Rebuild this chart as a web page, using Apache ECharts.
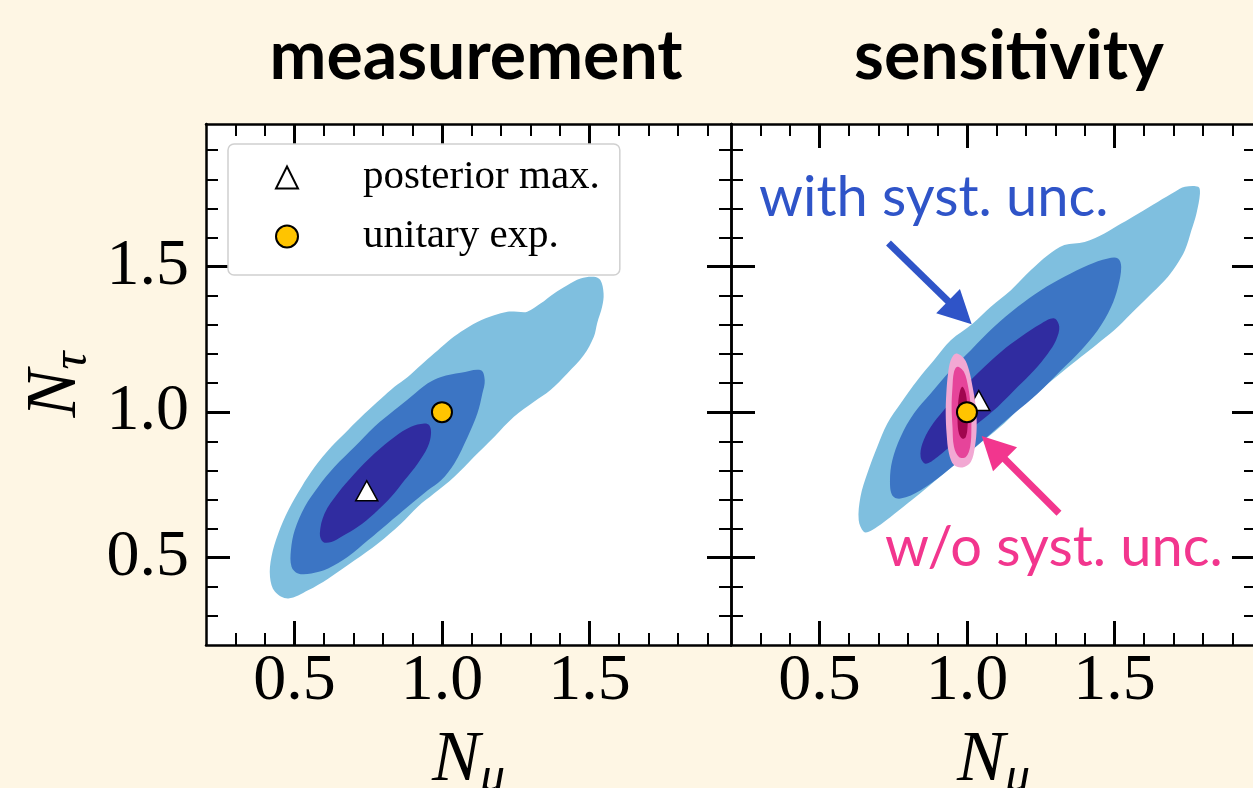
<!DOCTYPE html>
<html><head><meta charset="utf-8">
<script src="https://cdn.jsdelivr.net/npm/echarts@6/dist/echarts.min.js"></script>
<style>html,body{margin:0;padding:0;background:#fef6e4;}#c{width:1253px;height:788px;}</style>
</head><body><div id="c"></div>
<script>
// ---------- data ----------
const panelTitles = ['measurement', 'sensitivity'];
const annotationTexts = ['with syst. unc.', 'w/o syst. unc.'];
const legendNames = ['posterior max.', 'unitary exp.'];
const majorTicks = [0.5, 1.0, 1.5];
const xRange = [0.2, 1.98];
const yRange = [0.2, 1.99];

// measurement panel: credible-region contours (outer -> inner)
const measOuter = [[0.479,0.360],[0.546,0.388],[0.614,0.428],[0.704,0.491],[0.783,0.549],[0.861,0.617],[0.918,0.675],[0.974,0.721],[1.042,0.778],[1.109,0.847],[1.177,0.915],[1.244,0.984],[1.312,1.036],[1.368,1.076],[1.425,1.133],[1.481,1.196],[1.515,1.259],[1.526,1.305],[1.543,1.362],[1.548,1.408],[1.537,1.454],[1.515,1.465],[1.470,1.459],[1.425,1.436],[1.380,1.408],[1.334,1.373],[1.289,1.345],[1.256,1.345],[1.222,1.345],[1.177,1.333],[1.120,1.310],[1.064,1.276],[1.019,1.242],[0.974,1.202],[0.929,1.162],[0.884,1.121],[0.839,1.087],[0.794,1.047],[0.738,0.995],[0.681,0.938],[0.625,0.881],[0.569,0.812],[0.524,0.743],[0.479,0.663],[0.445,0.583],[0.422,0.503],[0.417,0.434],[0.434,0.383]];
const measMid = [[1.132,1.144],[1.064,1.135],[0.997,1.121],[0.952,1.099],[0.895,1.053],[0.839,1.007],[0.771,0.950],[0.704,0.881],[0.636,0.812],[0.580,0.743],[0.535,0.675],[0.501,0.595],[0.488,0.526],[0.490,0.469],[0.512,0.446],[0.557,0.446],[0.614,0.463],[0.681,0.503],[0.749,0.560],[0.816,0.617],[0.884,0.675],[0.952,0.732],[0.997,0.766],[1.042,0.824],[1.087,0.915],[1.120,0.995],[1.137,1.064],[1.145,1.110]];
const measInner = [[0.940,0.961],[0.895,0.950],[0.839,0.915],[0.771,0.858],[0.704,0.789],[0.647,0.721],[0.602,0.652],[0.586,0.583],[0.597,0.554],[0.625,0.554],[0.659,0.572],[0.715,0.606],[0.771,0.652],[0.828,0.709],[0.873,0.766],[0.918,0.824],[0.952,0.881],[0.963,0.927],[0.957,0.955]];

// sensitivity panel: with systematic uncertainties (outer -> inner)
const sensOuter = [[0.650,0.589],[0.633,0.629],[0.639,0.709],[0.662,0.789],[0.696,0.881],[0.730,0.961],[0.775,1.030],[0.832,1.110],[0.888,1.178],[0.945,1.247],[1.019,1.304],[1.081,1.362],[1.149,1.419],[1.217,1.488],[1.274,1.539],[1.330,1.574],[1.399,1.585],[1.466,1.614],[1.523,1.648],[1.580,1.682],[1.648,1.723],[1.705,1.757],[1.739,1.774],[1.784,1.774],[1.790,1.751],[1.778,1.682],[1.761,1.625],[1.739,1.556],[1.710,1.505],[1.671,1.453],[1.614,1.396],[1.557,1.339],[1.500,1.282],[1.444,1.236],[1.387,1.190],[1.330,1.144],[1.262,1.087],[1.194,1.030],[1.126,0.961],[1.058,0.904],[0.990,0.846],[0.922,0.789],[0.854,0.732],[0.798,0.686],[0.741,0.640],[0.696,0.606],[0.667,0.589]];
const sensMid = [[1.512,1.528],[1.523,1.499],[1.512,1.430],[1.489,1.362],[1.444,1.282],[1.387,1.213],[1.319,1.144],[1.240,1.064],[1.160,0.995],[1.081,0.926],[1.002,0.858],[0.922,0.789],[0.843,0.732],[0.775,0.703],[0.747,0.714],[0.739,0.766],[0.747,0.835],[0.775,0.915],[0.820,0.995],[0.877,1.064],[0.945,1.144],[1.013,1.213],[1.092,1.293],[1.172,1.362],[1.251,1.419],[1.330,1.465],[1.410,1.505],[1.478,1.528]];
const sensInner = [[1.296,1.322],[1.313,1.293],[1.302,1.247],[1.274,1.201],[1.228,1.144],[1.172,1.087],[1.104,1.018],[1.036,0.961],[0.968,0.904],[0.900,0.846],[0.860,0.823],[0.843,0.846],[0.849,0.892],[0.877,0.949],[0.922,1.007],[0.979,1.075],[1.047,1.144],[1.115,1.207],[1.183,1.259],[1.251,1.304]];

// sensitivity panel: without systematic uncertainties (outer -> inner)
const statOuter = [[0.962,1.201],[0.990,1.184],[1.007,1.144],[1.019,1.087],[1.030,1.018],[1.033,0.949],[1.027,0.881],[1.013,0.829],[0.985,0.810],[0.956,0.818],[0.939,0.858],[0.931,0.926],[0.928,0.995],[0.930,1.064],[0.936,1.133],[0.945,1.178]];
const statMid = [[0.968,1.156],[0.990,1.138],[1.004,1.087],[1.013,1.018],[1.015,0.949],[1.011,0.881],[0.996,0.846],[0.973,0.846],[0.956,0.881],[0.951,0.949],[0.948,1.018],[0.951,1.087],[0.956,1.138]];
const statInner = [[0.985,1.087],[0.996,1.064],[1.002,1.007],[1.002,0.949],[0.996,0.915],[0.985,0.909],[0.973,0.926],[0.968,0.972],[0.970,1.030],[0.977,1.075]];

// markers
const posteriorMaxMeas = [[0.745, 0.73]];
const posteriorMaxSens = [[1.04, 1.04]];
const unitaryExp = [[1.0, 1.0]];

// annotation arrows: [tail, tip] in data coordinates
const blueArrow = [[0.734, 1.581], [1.016, 1.302]];
const pinkArrow = [[1.312, 0.653], [1.050, 0.918]];

// ---------- styling ----------
const blues = ['#7fbfdf', '#3c75c4', '#302ca0'];
const pinks = ['#f2a8d3', '#e6449a', '#a1064f'];
const blueText = '#2f54c8';
const pinkText = '#f2368e';
const minorTicks = [];
for (let k = 3; k <= 19; k++) minorTicks.push(k / 10);

const grids = [
  { left: 206, top: 124, width: 525, height: 521 },
  { left: 731, top: 124, width: 525, height: 521 }
].map(g => Object.assign(g, { show: true, backgroundColor: '#ffffff', borderWidth: 0, containLabel: false, outerBoundsMode: 'none' }));

const fmt = v => v.toFixed(1);

function makeAxis(kind, g, pos, major, labels, name) {
  const ax = {
    type: 'value', gridIndex: g, position: pos,
    min: kind === 'x' ? xRange[0] : yRange[0],
    max: kind === 'x' ? xRange[1] : yRange[1],
    axisLine: { show: major, onZero: false, lineStyle: { color: '#000', width: 2.5 } },
    axisTick: { show: true, inside: true, length: major ? 24 : 12, customValues: major ? majorTicks : minorTicks,
                lineStyle: { color: '#000', width: major ? 3 : 2 } },
    axisLabel: { show: labels, customValues: majorTicks, formatter: fmt, margin: kind === 'x' ? 4 : 17,
                 fontFamily: 'Liberation Serif', fontSize: 66, color: '#000' },
    splitLine: { show: false }, minorTick: { show: false }, minorSplitLine: { show: false },
    axisPointer: { show: false }, silent: true
  };
  if (name) {
    ax.name = name;
    ax.nameLocation = 'middle';
    ax.nameGap = kind === 'x' ? 74 : 108;
    if (kind === 'y') ax.nameRotate = 90;
    ax.nameTextStyle = {
      color: '#000',
      rich: {
        n: { fontFamily: 'Liberation Serif', fontStyle: 'italic', fontSize: 72, color: '#000' },
        s: { fontFamily: 'Liberation Serif', fontStyle: 'italic', fontSize: 50, color: '#000', verticalAlign: 'top', padding: [34, 0, 0, 0] }
      }
    };
  }
  return ax;
}

const xAxes = [], yAxes = [];
[0, 1].forEach(g => {
  xAxes.push(makeAxis('x', g, 'bottom', true, true, '{n|N}{s|μ}'));
  xAxes.push(makeAxis('x', g, 'bottom', false, false));
  xAxes.push(makeAxis('x', g, 'top', true, false));
  xAxes.push(makeAxis('x', g, 'top', false, false));
  yAxes.push(makeAxis('y', g, 'left', true, g === 0, g === 0 ? '{n|N}{s|τ}' : null));
  yAxes.push(makeAxis('y', g, 'left', false, false));
  yAxes.push(makeAxis('y', g, 'right', true, false));
  yAxes.push(makeAxis('y', g, 'right', false, false));
});

function contourSeries(name, levels, colors, g, z) {
  return {
    type: 'custom', name: name, xAxisIndex: g * 4, yAxisIndex: g * 4, z: z, silent: true, clip: true,
    data: levels.map(l => l[0]),
    renderItem: (params, api) => {
      const poly = levels[params.dataIndex];
      const pts = poly.map(p => api.coord(p));
      return { type: 'polygon', shape: { points: pts, smooth: 0.35 }, style: { fill: colors[params.dataIndex] } };
    },
    animation: false
  };
}

function markerSeries(name, data, g, z, symbol) {
  const tri = symbol === 'triangle';
  return {
    type: 'scatter', name: name, xAxisIndex: g * 4, yAxisIndex: g * 4, z: z, data: data,
    symbol: symbol, symbolSize: tri ? [22, 20] : 20,
    itemStyle: { color: tri ? '#ffffff' : '#ffc400', borderColor: '#000', borderWidth: tri ? 1.5 : 2, opacity: 1 },
    emphasis: { disabled: true }, silent: true, animation: false
  };
}

const arrows = [blueArrow, pinkArrow];
const arrowColors = [blueText, pinkText];
const arrowSeries = {
  type: 'custom', name: 'arrows', xAxisIndex: 4, yAxisIndex: 4, z: 7, silent: true, clip: false,
  data: arrows.map(a => a[1]),
  renderItem: (params, api) => {
    const arr = arrows[params.dataIndex];
    const col = arrowColors[params.dataIndex];
    const a = api.coord(arr[0]), b = api.coord(arr[1]);
    const dx = b[0] - a[0], dy = b[1] - a[1];
    const L = Math.sqrt(dx * dx + dy * dy);
    const ux = dx / L, uy = dy / L, nx = -uy, ny = ux;
    const headLen = 33, headHalf = 17;
    const bx = b[0] - ux * headLen, by = b[1] - uy * headLen;
    return {
      type: 'group',
      children: [
        { type: 'line', shape: { x1: a[0], y1: a[1], x2: bx + ux * 2, y2: by + uy * 2 }, style: { stroke: col, lineWidth: 7, lineCap: 'butt' } },
        { type: 'polygon', shape: { points: [[b[0], b[1]], [bx + nx * headHalf, by + ny * headHalf], [bx - nx * headHalf, by - ny * headHalf]] }, style: { fill: col } }
      ]
    };
  },
  animation: false
};

const option = {
  backgroundColor: '#fef6e4',
  animation: false,
  grid: grids,
  xAxis: xAxes,
  yAxis: yAxes,
  legend: {
    show: true, data: legendNames, orient: 'vertical', left: 228, top: 144,
    padding: [13, 20, 18, 47], itemGap: 18, itemWidth: 22, itemHeight: 22,
    backgroundColor: '#ffffff', borderColor: '#d0d0d0', borderWidth: 1.5, borderRadius: 6,
    textStyle: { fontFamily: 'Liberation Serif', fontSize: 41, color: '#000', padding: [0, 0, 0, 60] },
    selectedMode: false, z: 20
  },
  graphic: [
    { type: 'text', x: 476, y: 57, z: 100, silent: true,
      style: { text: panelTitles[0], fontFamily: 'Lato', fontWeight: 'bold', fontSize: 68, fill: '#000', align: 'center', verticalAlign: 'middle' } },
    { type: 'text', x: 1009, y: 57, z: 100, silent: true,
      style: { text: panelTitles[1], fontFamily: 'Lato', fontWeight: 'bold', fontSize: 68, fill: '#000', align: 'center', verticalAlign: 'middle' } },
    { type: 'text', x: 759, y: 198, z: 100, silent: true,
      style: { text: annotationTexts[0], fontFamily: 'Lato', fontSize: 56, fill: blueText, align: 'left', verticalAlign: 'middle' } },
    { type: 'text', x: 885, y: 548, z: 100, silent: true,
      style: { text: annotationTexts[1], fontFamily: 'Lato', fontSize: 56, fill: pinkText, align: 'left', verticalAlign: 'middle' } }
  ],
  series: [
    contourSeries('meas', [measOuter, measMid, measInner], blues, 0, 1),
    markerSeries(legendNames[0], posteriorMaxMeas, 0, 5, 'triangle'),
    markerSeries(legendNames[1], unitaryExp, 0, 6, 'circle'),
    contourSeries('sens', [sensOuter, sensMid, sensInner], blues, 1, 1),
    markerSeries(legendNames[0], posteriorMaxSens, 1, 3, 'triangle'),
    contourSeries('stat', [statOuter, statMid, statInner], pinks, 1, 4),
    markerSeries(legendNames[1], unitaryExp, 1, 6, 'circle'),
    arrowSeries
  ]
};

const chart = echarts.init(document.getElementById('c'), null, { renderer: 'canvas' });
chart.setOption(option);
</script>
</body></html>
